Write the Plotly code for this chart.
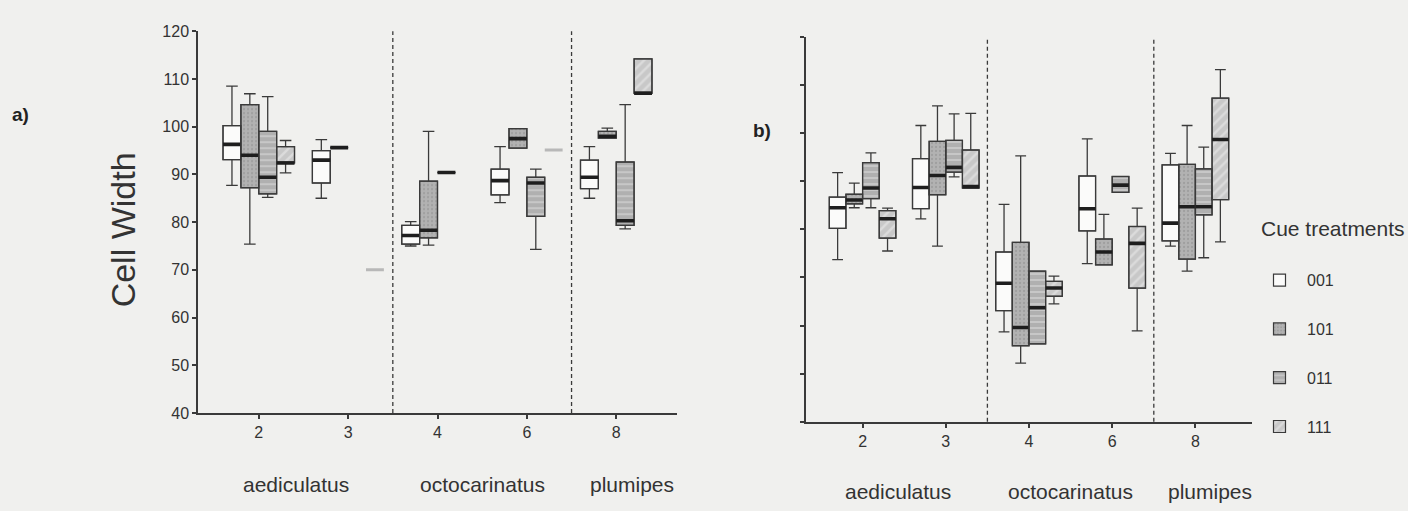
import plotly.graph_objects as go

# ---------------- data ----------------
cats = ["2", "3", "4", "6", "8"]
treatments = ["001", "101", "011", "111"]
species = ["aediculatus", "octocarinatus", "plumipes"]
species_pos = [0.42, 2.5, 4.18]
y_ticks_a = [40, 50, 60, 70, 80, 90, 100, 110, 120]

# Panel a) Cell Width  (None = no data)
a_q1 = {
    "001": [93.1, 88.2, 75.4, 85.7, 87.0],
    "101": [87.2, 95.6, 76.7, 95.5, 97.6],
    "011": [85.9, None, 90.4, 81.2, 79.3],
    "111": [92.4, None, None, None, 107.0],
}
a_med = {
    "001": [96.3, 93.0, 77.2, 88.7, 89.4],
    "101": [94.0, 95.6, 78.3, 97.5, 98.0],
    "011": [89.4, None, 90.4, 88.2, 80.3],
    "111": [92.4, None, None, None, 107.0],
}
a_q3 = {
    "001": [100.2, 95.0, 79.3, 91.1, 93.0],
    "101": [104.6, 95.6, 88.6, 99.6, 99.0],
    "011": [99.0, None, 90.4, 89.4, 92.6],
    "111": [95.8, None, None, None, 114.2],
}
a_lo = {
    "001": [87.7, 85.0, 75.0, 84.1, 85.0],
    "101": [75.4, 95.6, 75.2, 95.5, 97.6],
    "011": [85.2, None, 90.4, 74.3, 78.6],
    "111": [90.3, None, None, None, 107.0],
}
a_hi = {
    "001": [108.5, 97.3, 80.1, 95.8, 95.8],
    "101": [106.9, 95.6, 99.0, 99.6, 99.7],
    "011": [106.3, None, 90.4, 91.1, 104.6],
    "111": [97.1, None, None, None, 114.2],
}
# faint single-value marks (111) in panel a
a_faint_111 = [None, 70.0, None, 95.1, None]

# Panel b)
b_q1 = {
    "001": [80.2, 84.3, 63.1, 79.7, 77.6],
    "101": [85.3, 87.2, 55.8, 72.6, 73.8],
    "011": [86.4, 91.9, 56.2, 87.7, 83.0],
    "111": [78.2, 88.6, 66.1, 67.8, 86.2],
}
b_med = {
    "001": [84.5, 88.7, 68.8, 84.3, 81.3],
    "101": [86.1, 91.2, 59.6, 75.3, 84.7],
    "011": [88.6, 92.9, 63.7, 89.2, 84.7],
    "111": [82.2, 88.9, 67.8, 77.1, 98.7],
}
b_q3 = {
    "001": [86.7, 94.7, 75.3, 91.1, 93.4],
    "101": [87.3, 98.3, 77.3, 78.0, 93.5],
    "011": [93.9, 98.5, 71.3, 91.0, 92.6],
    "111": [83.9, 96.5, 69.2, 80.6, 107.3],
}
b_lo = {
    "001": [73.7, 82.2, 58.7, 72.9, 76.5],
    "101": [84.5, 76.5, 52.2, 72.6, 71.3],
    "011": [84.5, 90.9, 56.2, 87.7, 74.1],
    "111": [75.5, 88.6, 64.5, 58.9, 77.4],
}
b_hi = {
    "001": [91.8, 101.6, 85.2, 98.8, 95.8],
    "101": [89.6, 105.7, 95.3, 83.1, 101.6],
    "011": [95.9, 104.0, 71.3, 91.0, 97.1],
    "111": [84.4, 104.1, 70.3, 84.4, 113.2],
}

# ---------------- styles ----------------
W, H = 1408, 511
BG = "#f0f0ee"
INK = "#3a3a3a"
fills = {
    "001": dict(color="#fbfbfa", pattern=dict(shape="")),
    "101": dict(color="#b2b2b2", pattern=dict(shape=".", fgcolor="#8c8c8c", size=4, solidity=0.25, fillmode="overlay")),
    "011": dict(color="#b0b0b0", pattern=dict(shape="-", fgcolor="#e4e4e4", size=6, solidity=0.3, fillmode="overlay")),
    "111": dict(color="#c8c8c8", pattern=dict(shape="/", fgcolor="#eeeeee", size=7, solidity=0.35, fillmode="overlay")),
}


def px_x(p):
    return p / W


def px_y(p):
    return 1 - p / H


def pick(vals, *others):
    idx = [i for i, v in enumerate(vals) if v is not None]
    return [cats[i] for i in idx], [[o[i] for i in idx] for o in (vals,) + others]


fig = go.Figure()

panels = [
    ("x", "y", "A", a_q1, a_med, a_q3, a_lo, a_hi, True),
    ("x2", "y2", "B", b_q1, b_med, b_q3, b_lo, b_hi, False),
]

for xa, ya, grp, Q1, MED, Q3, LO, HI, leg in panels:
    for t in treatments:
        xs, (q1, med, q3, lo, hi) = pick(Q1[t], MED[t], Q3[t], LO[t], HI[t])
        # pattern fill of the box body
        fig.add_trace(go.Bar(
            x=xs, y=[b - a for a, b in zip(q1, q3)], base=q1,
            xaxis=xa, yaxis=ya, offsetgroup=t, alignmentgroup=grp,
            name=t, legendgroup=t, showlegend=leg,
            marker=dict(color=fills[t]["color"], pattern=fills[t]["pattern"],
                        line=dict(color=INK, width=1.2)),
            hoverinfo="skip",
        ))
        # outline + whiskers
        fig.add_trace(go.Box(
            x=xs, q1=q1, median=med, q3=q3, lowerfence=lo, upperfence=hi,
            xaxis=xa, yaxis=ya, offsetgroup=t, alignmentgroup=grp,
            fillcolor="rgba(0,0,0,0)", line=dict(color=INK, width=1.3),
            whiskerwidth=0.65, showlegend=False, hoverinfo="skip", boxpoints=False,
        ))
        # thick median line
        fig.add_trace(go.Box(
            x=xs, q1=med, median=med, q3=med, lowerfence=med, upperfence=med,
            xaxis=xa, yaxis=ya, offsetgroup=t, alignmentgroup=grp,
            fillcolor="rgba(0,0,0,0)", line=dict(color="#1e1e1e", width=3.6),
            whiskerwidth=0, showlegend=False, hoverinfo="skip", boxpoints=False,
        ))

# faint single marks in panel a (111)
xs, (fv,) = pick(a_faint_111)
fig.add_trace(go.Box(
    x=xs, q1=fv, median=fv, q3=fv, lowerfence=fv, upperfence=fv,
    xaxis="x", yaxis="y", offsetgroup="111", alignmentgroup="A",
    fillcolor="rgba(0,0,0,0)", line=dict(color="#b8b8b8", width=3),
    whiskerwidth=0, showlegend=False, hoverinfo="skip", boxpoints=False,
))

axis_common = dict(showline=True, linecolor=INK, linewidth=1.5, ticks="outside",
                   ticklen=4, tickwidth=2, tickcolor=INK, showgrid=False,
                   zeroline=False, tickfont=dict(family="Liberation Sans, Arial", size=16, color="#333"))

fig.update_layout(
    width=W, height=H,
    margin=dict(l=0, r=0, t=0, b=0),
    paper_bgcolor=BG, plot_bgcolor=BG,
    barmode="group", bargap=0.2, bargroupgap=0,
    boxmode="group", boxgap=0.2, boxgroupgap=0,
    font=dict(family="Liberation Sans, Arial", color="#333"),
    xaxis=dict(domain=[px_x(198), px_x(677)], anchor="y", type="category",
               categoryorder="array", categoryarray=cats, range=[-0.68, 4.68], **axis_common),
    yaxis=dict(domain=[px_y(419), px_y(24)], anchor="x", range=[40, 120],
               tickvals=y_ticks_a, **axis_common),
    xaxis2=dict(domain=[px_x(806), px_x(1252)], anchor="y2", type="category",
                categoryorder="array", categoryarray=cats, range=[-0.68, 4.68], **axis_common),
    yaxis2=dict(domain=[px_y(428), px_y(30)], anchor="x2", range=[40, 120],
                tickvals=y_ticks_a, showticklabels=False, **axis_common),
    legend=dict(
        x=px_x(1252), y=px_y(264), xanchor="left", yanchor="top",
        bgcolor="rgba(0,0,0,0)", tracegroupgap=25, itemwidth=45,
        font=dict(size=16, color="#333"),
    ),
)

# dashed separators
for xr, yr in (("x", "y domain"), ("x2", "y2 domain")):
    for xv in (1.5, 3.5):
        fig.add_shape(type="line", xref=xr, yref=yr, x0=xv, x1=xv, y0=0, y1=1,
                      line=dict(color=INK, width=1.3, dash="4px,3px"))

# species labels
for xr, yv in (("x", px_y(493)), ("x2", px_y(500))):
    for name, pos in zip(species, species_pos):
        fig.add_annotation(text=name, x=pos, xref=xr, y=yv, yref="paper",
                           xanchor="center", yanchor="middle",
                           showarrow=False, font=dict(size=21, color="#333"))

fig.add_annotation(text="Cue treatments", x=px_x(1259), y=px_y(228),
                   xref="paper", yref="paper", xanchor="left", yanchor="middle",
                   showarrow=False, font=dict(size=21, color="#333"))
fig.add_annotation(text="Cell Width", textangle=-90, x=px_x(123), y=px_y(230),
                   xref="paper", yref="paper", xanchor="center", yanchor="middle",
                   showarrow=False, font=dict(size=34, color="#333"))
fig.add_annotation(text="<b>a)</b>", x=px_x(20), y=px_y(110), xref="paper", yref="paper",
                   xanchor="center", yanchor="middle",
                   showarrow=False, font=dict(size=19, color="#222"))
fig.add_annotation(text="<b>b)</b>", x=px_x(762), y=px_y(127), xref="paper", yref="paper",
                   xanchor="center", yanchor="middle",
                   showarrow=False, font=dict(size=19, color="#222"))

fig.write_html("out.html", config={"displayModeBar": False},
               post_script="document.body.style.margin='0px';")
